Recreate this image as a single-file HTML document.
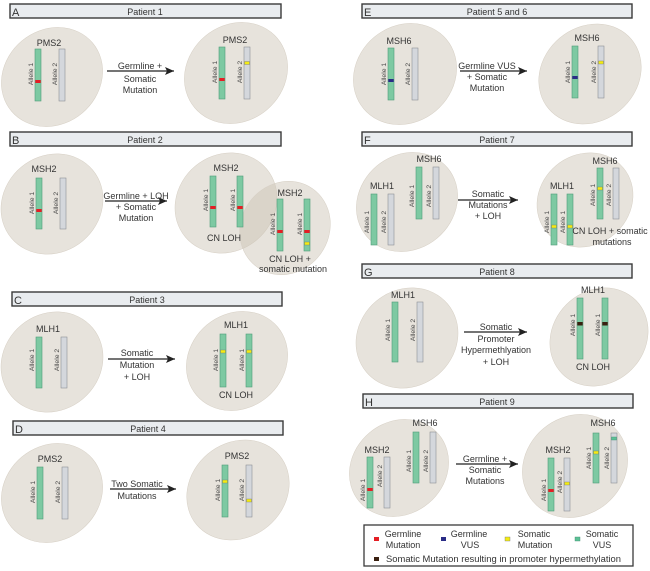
<!DOCTYPE html>
<html><head><meta charset="utf-8"><style>
html,body{margin:0;padding:0;background:#fff;}
svg{display:block;font-family:"Liberation Sans",sans-serif;}
.h{fill:#e9ecef;stroke:#3a3a3a;stroke-width:1.4;}
.hl{font-size:11px;fill:#333;}
.ht{font-size:9px;fill:#333;text-anchor:middle;}
.el{fill:#c9c0b2;fill-opacity:0.45;stroke:#d6cfc4;stroke-width:0.5;}
.g{fill:#7dc9a2;stroke:#4f9c78;stroke-width:0.6;}
.y0{fill:#d4d7dc;stroke:#8d9096;stroke-width:0.6;}
.t{font-size:9px;fill:#333;text-anchor:middle;}
.a{font-size:6.8px;fill:#444;text-anchor:middle;}
.r{fill:#e41e25;}
.yl{fill:#f4ec12;stroke:#777;stroke-width:0.4;}
.nv{fill:#2a2c86;}
.br{fill:#3a2010;}
.tl{fill:#5cc096;stroke:#3f8f6c;stroke-width:0.4;}
.ar{stroke:#222;stroke-width:1.2;}
.lt{font-size:9px;fill:#333;}
</style></head><body>
<svg width="650" height="571" viewBox="0 0 650 571" xmlns="http://www.w3.org/2000/svg">
<defs>
<marker id="ah" markerWidth="10" markerHeight="8" refX="9" refY="4" orient="auto" markerUnits="userSpaceOnUse">
<path d="M0,0 L9,4 L0,8 L2,4 Z" fill="#222"/>
</marker>
</defs>

<!-- ========== A ========== -->
<rect class="h" x="10" y="4" width="271" height="14"/>
<text class="hl" x="12" y="16">A</text>
<text class="ht" x="145" y="15">Patient 1</text>
<ellipse class="el" cx="52" cy="77" rx="53" ry="47" transform="rotate(-40 52 77)"/>
<text class="t" x="49" y="46">PMS2</text>
<rect class="g" x="35" y="49" width="6" height="52"/>
<rect class="r" x="35.3" y="80" width="5.4" height="3"/>
<rect class="y0" x="59" y="49" width="6" height="52"/>
<text class="a" transform="translate(33,74) rotate(-90)">Allele 1</text>
<text class="a" transform="translate(57,74) rotate(-90)">Allele 2</text>
<line class="ar" x1="107" y1="71" x2="174" y2="71" marker-end="url(#ah)"/>
<text class="t" x="140" y="69">Germline +</text>
<text class="t" x="140" y="82">Somatic</text>
<text class="t" x="140" y="93">Mutation</text>
<ellipse class="el" cx="236" cy="73" rx="54" ry="48" transform="rotate(-40 236 73)"/>
<text class="t" x="235" y="43">PMS2</text>
<rect class="g" x="219" y="47" width="6" height="52"/>
<rect class="r" x="219.3" y="78" width="5.4" height="3"/>
<rect class="y0" x="244" y="47" width="6" height="52"/>
<rect class="yl" x="244.5" y="61.5" width="5" height="3"/>
<text class="a" transform="translate(217,72) rotate(-90)">Allele 1</text>
<text class="a" transform="translate(242,72) rotate(-90)">Allele 2</text>

<!-- ========== B ========== -->
<rect class="h" x="10" y="132" width="271" height="14"/>
<text class="hl" x="12" y="144">B</text>
<text class="ht" x="145" y="143">Patient 2</text>
<ellipse class="el" cx="52" cy="204" rx="53" ry="48" transform="rotate(-40 52 204)"/>
<text class="t" x="44" y="172">MSH2</text>
<rect class="g" x="36" y="178" width="6" height="51"/>
<rect class="r" x="36.3" y="209" width="5.4" height="3"/>
<rect class="y0" x="60" y="178" width="6" height="51"/>
<text class="a" transform="translate(34,203) rotate(-90)">Allele 1</text>
<text class="a" transform="translate(58,203) rotate(-90)">Allele 2</text>
<line class="ar" x1="105" y1="201" x2="167" y2="201" marker-end="url(#ah)"/>
<text class="t" x="136" y="199">Germline + LOH</text>
<text class="t" x="136" y="210">+ Somatic</text>
<text class="t" x="136" y="221">Mutation</text>
<ellipse class="el" cx="226" cy="203" rx="53" ry="48" transform="rotate(-40 226 203)"/>
<ellipse class="el" cx="285" cy="228" rx="48" ry="44" transform="rotate(-55 285 228)"/>
<text class="t" x="226" y="171">MSH2</text>
<rect class="g" x="210" y="176" width="6" height="51"/>
<rect class="r" x="210.3" y="206" width="5.4" height="3"/>
<rect class="g" x="237" y="176" width="6" height="51"/>
<rect class="r" x="237.3" y="206" width="5.4" height="3"/>
<text class="a" transform="translate(208,200) rotate(-90)">Allele 1</text>
<text class="a" transform="translate(235,200) rotate(-90)">Allele 1</text>
<text class="t" x="224" y="241">CN LOH</text>
<text class="t" x="290" y="196">MSH2</text>
<rect class="g" x="277" y="199" width="6" height="52"/>
<rect class="r" x="277.3" y="230" width="5.4" height="3"/>
<rect class="g" x="304" y="199" width="6" height="52"/>
<rect class="r" x="304.3" y="230" width="5.4" height="3"/>
<rect class="yl" x="304.5" y="242" width="5" height="3"/>
<text class="a" transform="translate(275,224) rotate(-90)">Allele 1</text>
<text class="a" transform="translate(302,224) rotate(-90)">Allele 1</text>
<text class="t" x="290" y="262">CN LOH +</text>
<text class="t" x="293" y="272">somatic mutation</text>

<!-- ========== C ========== -->
<rect class="h" x="12" y="292" width="270" height="14"/>
<text class="hl" x="14" y="304">C</text>
<text class="ht" x="147" y="303">Patient 3</text>
<ellipse class="el" cx="52" cy="362" rx="53" ry="48" transform="rotate(-40 52 362)"/>
<text class="t" x="48" y="332">MLH1</text>
<rect class="g" x="36" y="337" width="6" height="51"/>
<rect class="y0" x="61" y="337" width="6" height="51"/>
<text class="a" transform="translate(34,360) rotate(-90)">Allele 1</text>
<text class="a" transform="translate(59,360) rotate(-90)">Allele 2</text>
<line class="ar" x1="108" y1="359" x2="175" y2="359" marker-end="url(#ah)"/>
<text class="t" x="137" y="356">Somatic</text>
<text class="t" x="137" y="368">Mutation</text>
<text class="t" x="137" y="380">+ LOH</text>
<ellipse class="el" cx="237" cy="361" rx="53" ry="47" transform="rotate(-40 237 361)"/>
<text class="t" x="236" y="328">MLH1</text>
<rect class="g" x="220" y="334" width="6" height="53"/>
<rect class="yl" x="220.5" y="350" width="5" height="3"/>
<rect class="g" x="246" y="334" width="6" height="53"/>
<rect class="yl" x="246.5" y="350" width="5" height="3"/>
<text class="a" transform="translate(218,360) rotate(-90)">Allele 1</text>
<text class="a" transform="translate(244,360) rotate(-90)">Allele 1</text>
<text class="t" x="236" y="398">CN LOH</text>

<!-- ========== D ========== -->
<rect class="h" x="13" y="421" width="270" height="14"/>
<text class="hl" x="15" y="433">D</text>
<text class="ht" x="148" y="432">Patient 4</text>
<ellipse class="el" cx="52" cy="493" rx="53" ry="47" transform="rotate(-40 52 493)"/>
<text class="t" x="50" y="462">PMS2</text>
<rect class="g" x="37" y="467" width="6" height="52"/>
<rect class="y0" x="62" y="467" width="6" height="52"/>
<text class="a" transform="translate(35,492) rotate(-90)">Allele 1</text>
<text class="a" transform="translate(60,492) rotate(-90)">Allele 2</text>
<line class="ar" x1="110" y1="489" x2="176" y2="489" marker-end="url(#ah)"/>
<text class="t" x="137" y="487">Two Somatic</text>
<text class="t" x="137" y="499">Mutations</text>
<ellipse class="el" cx="238" cy="490" rx="54" ry="47" transform="rotate(-40 238 490)"/>
<text class="t" x="237" y="459">PMS2</text>
<rect class="g" x="222" y="465" width="6" height="52"/>
<rect class="yl" x="222.5" y="480" width="5" height="3"/>
<rect class="y0" x="246" y="465" width="6" height="52"/>
<rect class="yl" x="246.5" y="499" width="5" height="3"/>
<text class="a" transform="translate(220,490) rotate(-90)">Allele 1</text>
<text class="a" transform="translate(244,490) rotate(-90)">Allele 2</text>

<!-- ========== E ========== -->
<rect class="h" x="362" y="4" width="270" height="14"/>
<text class="hl" x="364" y="16">E</text>
<text class="ht" x="497" y="15">Patient 5 and 6</text>
<ellipse class="el" cx="405" cy="74" rx="54" ry="48" transform="rotate(-40 405 74)"/>
<text class="t" x="399" y="44">MSH6</text>
<rect class="g" x="388" y="48" width="6" height="52"/>
<rect class="nv" x="388.3" y="79" width="5.4" height="3"/>
<rect class="y0" x="412" y="48" width="6" height="52"/>
<text class="a" transform="translate(386,74) rotate(-90)">Allele 1</text>
<text class="a" transform="translate(410,74) rotate(-90)">Allele 2</text>
<line class="ar" x1="460" y1="71" x2="527" y2="71" marker-end="url(#ah)"/>
<text class="t" x="487" y="69">Germline VUS</text>
<text class="t" x="487" y="80">+ Somatic</text>
<text class="t" x="487" y="91">Mutation</text>
<ellipse class="el" cx="590" cy="74" rx="54" ry="47" transform="rotate(-40 590 74)"/>
<text class="t" x="587" y="41">MSH6</text>
<rect class="g" x="572" y="46" width="6" height="52"/>
<rect class="nv" x="572.3" y="76" width="5.4" height="3"/>
<rect class="y0" x="598" y="46" width="6" height="52"/>
<rect class="yl" x="598.5" y="61" width="5" height="3"/>
<text class="a" transform="translate(570,72) rotate(-90)">Allele 1</text>
<text class="a" transform="translate(596,72) rotate(-90)">Allele 2</text>

<!-- ========== F ========== -->
<rect class="h" x="362" y="132" width="270" height="14"/>
<text class="hl" x="364" y="144">F</text>
<text class="ht" x="497" y="143">Patient 7</text>
<ellipse class="el" cx="407" cy="202" rx="53" ry="47" transform="rotate(-40 407 202)"/>
<text class="t" x="382" y="189">MLH1</text>
<rect class="g" x="371" y="194" width="6" height="51"/>
<rect class="y0" x="388" y="194" width="6" height="51"/>
<text class="a" transform="translate(369,222) rotate(-90)">Allele 1</text>
<text class="a" transform="translate(386,222) rotate(-90)">Allele 2</text>
<text class="t" x="429" y="162">MSH6</text>
<rect class="g" x="416" y="167" width="6" height="52"/>
<rect class="y0" x="433" y="167" width="6" height="52"/>
<text class="a" transform="translate(414,196) rotate(-90)">Allele 1</text>
<text class="a" transform="translate(431,196) rotate(-90)">Allele 2</text>
<line class="ar" x1="458" y1="200" x2="518" y2="200" marker-end="url(#ah)"/>
<text class="t" x="488" y="197">Somatic</text>
<text class="t" x="488" y="208">Mutations</text>
<text class="t" x="488" y="219">+ LOH</text>
<ellipse class="el" cx="585" cy="200" rx="50" ry="45" transform="rotate(-40 585 200)"/>
<text class="t" x="562" y="189">MLH1</text>
<rect class="g" x="551" y="194" width="6" height="51"/>
<rect class="yl" x="551.5" y="225" width="5" height="3"/>
<rect class="g" x="567" y="194" width="6" height="51"/>
<rect class="yl" x="567.5" y="225" width="5" height="3"/>
<text class="a" transform="translate(549,222) rotate(-90)">Allele 1</text>
<text class="a" transform="translate(565,222) rotate(-90)">Allele 1</text>
<text class="t" x="605" y="164">MSH6</text>
<rect class="g" x="597" y="168" width="6" height="51"/>
<rect class="yl" x="597.5" y="187" width="5" height="3"/>
<rect class="y0" x="613" y="168" width="6" height="51"/>
<text class="a" transform="translate(595,195) rotate(-90)">Allele 1</text>
<text class="a" transform="translate(611,195) rotate(-90)">Allele 2</text>
<text class="t" x="610" y="234">CN LOH + somatic</text>
<text class="t" x="612" y="245">mutations</text>

<!-- ========== G ========== -->
<rect class="h" x="362" y="264" width="270" height="14"/>
<text class="hl" x="364" y="276">G</text>
<text class="ht" x="497" y="275">Patient 8</text>
<ellipse class="el" cx="407" cy="338" rx="53" ry="48" transform="rotate(-40 407 338)"/>
<text class="t" x="403" y="298">MLH1</text>
<rect class="g" x="392" y="302" width="6" height="60"/>
<rect class="y0" x="417" y="302" width="6" height="60"/>
<text class="a" transform="translate(390,330) rotate(-90)">Allele 1</text>
<text class="a" transform="translate(415,330) rotate(-90)">Allele 2</text>
<line class="ar" x1="464" y1="332" x2="527" y2="332" marker-end="url(#ah)"/>
<text class="t" x="496" y="330">Somatic</text>
<text class="t" x="496" y="342">Promoter</text>
<text class="t" x="496" y="353">Hypermethlyation</text>
<text class="t" x="496" y="365">+ LOH</text>
<ellipse class="el" cx="599" cy="337" rx="52" ry="46" transform="rotate(-45 599 337)"/>
<text class="t" x="593" y="293">MLH1</text>
<rect class="g" x="577" y="298" width="6" height="61"/>
<rect class="br" x="577.3" y="322" width="5.4" height="3.5"/>
<rect class="g" x="602" y="298" width="6" height="61"/>
<rect class="br" x="602.3" y="322" width="5.4" height="3.5"/>
<text class="a" transform="translate(575,325) rotate(-90)">Allele 1</text>
<text class="a" transform="translate(600,325) rotate(-90)">Allele 1</text>
<text class="t" x="593" y="370">CN LOH</text>

<!-- ========== H ========== -->
<rect class="h" x="363" y="394" width="270" height="14"/>
<text class="hl" x="365" y="406">H</text>
<text class="ht" x="497" y="405">Patient 9</text>
<ellipse class="el" cx="399" cy="468" rx="52" ry="46" transform="rotate(-40 399 468)"/>
<text class="t" x="377" y="453">MSH2</text>
<rect class="g" x="367" y="457" width="6" height="51"/>
<rect class="r" x="367.3" y="488" width="5.4" height="3"/>
<rect class="y0" x="384" y="457" width="6" height="51"/>
<text class="a" transform="translate(365,490) rotate(-90)">Allele 1</text>
<text class="a" transform="translate(382,476) rotate(-90)">Allele 2</text>
<text class="t" x="425" y="426">MSH6</text>
<rect class="g" x="413" y="432" width="6" height="51"/>
<rect class="y0" x="430" y="432" width="6" height="51"/>
<text class="a" transform="translate(411,461) rotate(-90)">Allele 1</text>
<text class="a" transform="translate(428,461) rotate(-90)">Allele 2</text>
<line class="ar" x1="456" y1="464" x2="518" y2="464" marker-end="url(#ah)"/>
<text class="t" x="485" y="462">Germline +</text>
<text class="t" x="485" y="473">Somatic</text>
<text class="t" x="485" y="484">Mutations</text>
<ellipse class="el" cx="575" cy="466" rx="55" ry="49" transform="rotate(-40 575 466)"/>
<text class="t" x="558" y="453">MSH2</text>
<rect class="g" x="548" y="458" width="6" height="53"/>
<rect class="r" x="548.3" y="489" width="5.4" height="3"/>
<rect class="y0" x="564" y="458" width="6" height="53"/>
<rect class="yl" x="564.5" y="482" width="5" height="3"/>
<text class="a" transform="translate(546,490) rotate(-90)">Allele 1</text>
<text class="a" transform="translate(562,482) rotate(-90)">Allele 2</text>
<text class="t" x="603" y="426">MSH6</text>
<rect class="g" x="593" y="433" width="6" height="50"/>
<rect class="yl" x="593.5" y="451" width="5" height="3"/>
<rect class="y0" x="611" y="433" width="6" height="50"/>
<rect class="tl" x="611.5" y="437" width="5" height="3"/>
<text class="a" transform="translate(591,458) rotate(-90)">Allele 1</text>
<text class="a" transform="translate(609,458) rotate(-90)">Allele 2</text>

<!-- ========== Legend ========== -->
<rect x="364" y="525" width="269" height="41" fill="#fff" stroke="#3a3a3a" stroke-width="1.3"/>
<rect class="r" x="374" y="537" width="5" height="4"/>
<text class="lt" x="403" y="537" text-anchor="middle">Germline</text>
<text class="lt" x="403" y="548" text-anchor="middle">Mutation</text>
<rect class="nv" x="441" y="537" width="5" height="4"/>
<text class="lt" x="469" y="537" text-anchor="middle">Germline</text>
<text class="lt" x="470" y="548" text-anchor="middle">VUS</text>
<rect class="yl" x="505" y="537" width="5" height="4"/>
<text class="lt" x="534" y="537" text-anchor="middle">Somatic</text>
<text class="lt" x="535" y="548" text-anchor="middle">Mutation</text>
<rect class="tl" x="575" y="537" width="5" height="4"/>
<text class="lt" x="602" y="537" text-anchor="middle">Somatic</text>
<text class="lt" x="602" y="548" text-anchor="middle">VUS</text>
<rect class="br" x="374" y="557" width="5" height="4"/>
<text class="lt" x="386" y="562" textLength="235" lengthAdjust="spacingAndGlyphs">Somatic Mutation resulting in promoter hypermethylation</text>
</svg>
</body></html>
